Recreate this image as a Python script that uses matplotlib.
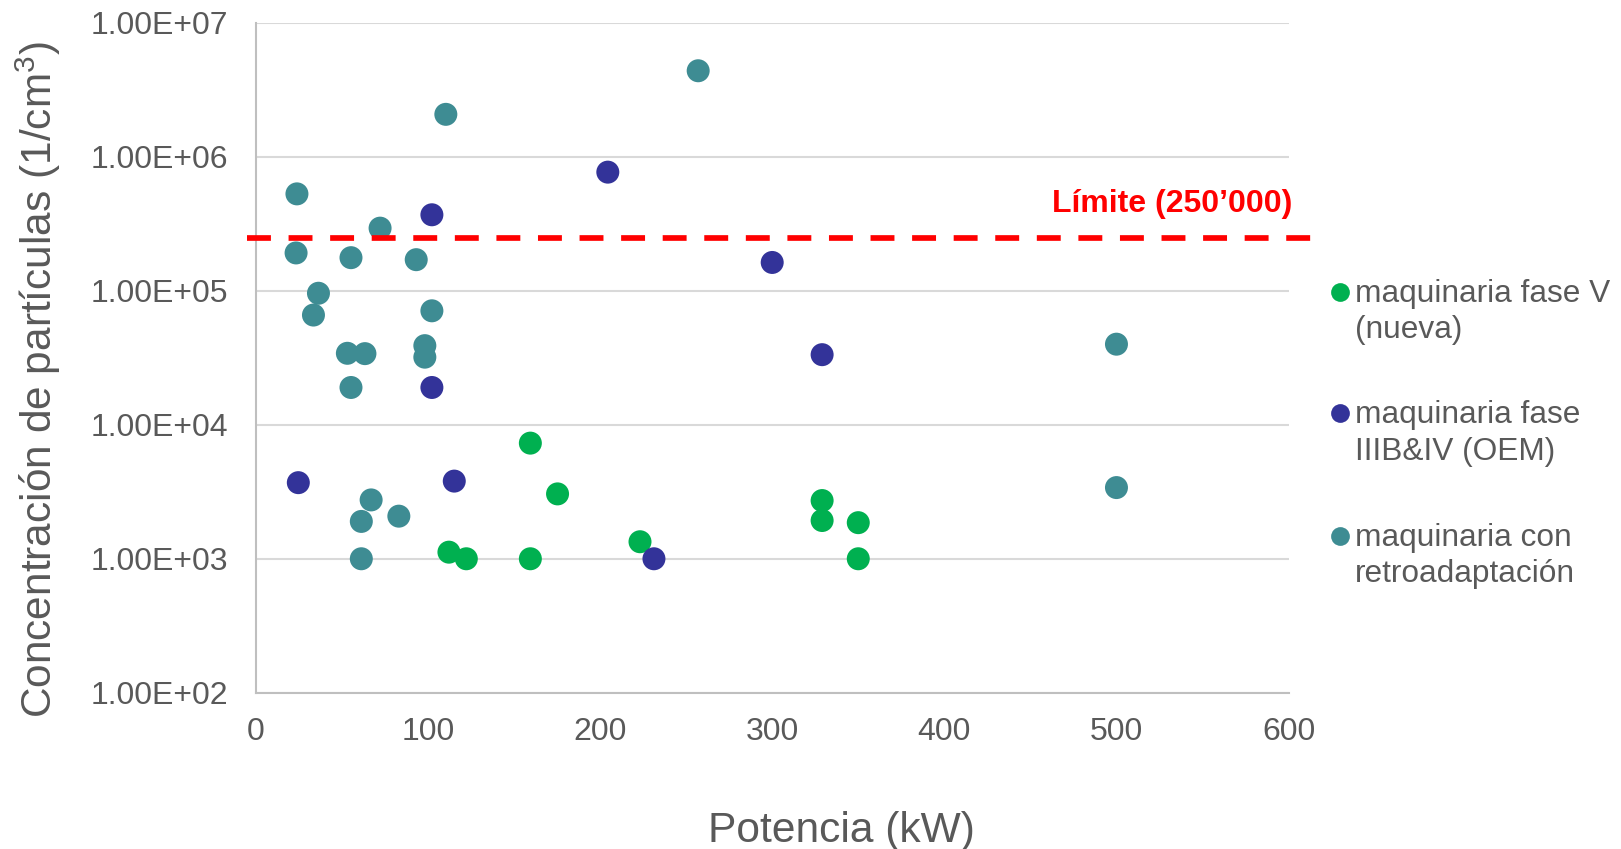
import matplotlib
matplotlib.use("Agg")
import matplotlib.pyplot as plt
from matplotlib.ticker import FixedLocator, FixedFormatter

plt.rcParams['font.family'] = ['Liberation Sans', 'DejaVu Sans']
plt.rcParams['mathtext.default'] = 'regular'

# datos
fase_v_kw = [159.5, 112.2, 122.3, 159.5, 175.3, 223.2, 329.0, 329.0, 350.0, 350.0]
fase_v_conc = [7.3e3, 1.12e3, 1.0e3, 1.0e3, 3.05e3, 1.34e3, 2.72e3, 1.93e3, 1.86e3, 1.0e3]

oem_kw = [102.3, 102.3, 204.5, 300.0, 329.0, 24.7, 115.3, 231.3]
oem_conc = [3.7e5, 1.9e4, 7.7e5, 1.63e5, 3.34e4, 3.7e3, 3.8e3, 1.0e3]

retro_kw = [23.9, 23.4, 36.4, 33.5, 55.3, 72.2, 53.2, 63.4, 55.3, 93.2, 102.3,
            98.2, 98.2, 110.4, 257.0, 500.0, 67.0, 61.3, 83.1, 61.3, 500.0]
retro_conc = [5.3e5, 1.92e5, 9.6e4, 6.6e4, 1.77e5, 2.94e5, 3.42e4, 3.4e4, 1.9e4,
              1.71e5, 7.1e4, 3.9e4, 3.2e4, 2.08e6, 4.4e6, 4.0e4, 2.75e3, 1.9e3,
              2.08e3, 1.0e3, 3.4e3]

limite = 250000
y_ticks = [1e2, 1e3, 1e4, 1e5, 1e6, 1e7]
y_labels = ["1.00E+02", "1.00E+03", "1.00E+04", "1.00E+05", "1.00E+06", "1.00E+07"]
x_ticks = [0, 100, 200, 300, 400, 500, 600]

series = [
    ("maquinaria fase V", "(nueva)", fase_v_kw, fase_v_conc, "#00B050"),
    ("maquinaria fase", "IIIB&IV (OEM)", oem_kw, oem_conc, "#333399"),
    ("maquinaria con", "retroadaptación", retro_kw, retro_conc, "#3E8C93"),
]

W, H = 1621, 849
gris = "#595959"
fig = plt.figure(figsize=(W / 100, H / 100), dpi=100)
ax = fig.add_axes([255.8 / W, 1 - 692.7 / H, 1032.8 / W, 669.7 / H])

for _, _, xs, ys, col in series:
    ax.scatter(xs, ys, s=274, color=col, edgecolors="none", zorder=3)

# línea límite
ax.plot([-5, 615], [limite, limite], color="#FF0000", lw=4.1,
        linestyle=(0, (4.2, 3.1)), zorder=4, clip_on=False)
ax.text(602, 3.9e5, "Límite (250’000)", color="#FF0000", fontsize=23,
        fontweight="bold", ha="right", va="baseline")

ax.set_yscale("log")
ax.set_ylim(1e2, 1e7)
ax.set_xlim(0, 600)
ax.yaxis.set_major_locator(FixedLocator(y_ticks))
ax.yaxis.set_major_formatter(FixedFormatter(y_labels))
ax.yaxis.set_minor_locator(FixedLocator([]))
ax.set_xticks(x_ticks)
ax.tick_params(axis="both", length=0, labelsize=23, colors=gris)
ax.tick_params(axis="x", pad=17.5)
ax.tick_params(axis="y", pad=20)
ax.grid(axis="y", color="#D9D9D9", lw=1.5, zorder=0)
ax.set_axisbelow(True)
for s in ["top", "right"]:
    ax.spines[s].set_visible(False)
for s in ["left", "bottom"]:
    ax.spines[s].set_color("#BFBFBF")
    ax.spines[s].set_linewidth(1.5)

fig.text(841 / W, 7.3 / H, "Potencia (kW)", fontsize=30.6, color=gris,
         ha="center", va="baseline")
fig.text(52 / W, 1 - 379.5 / H, "Concentración de partículas (1/cm$^{3}$)",
         fontsize=30.5, color=gris, rotation=90, rotation_mode="anchor",
         ha="center", va="baseline")

# leyenda manual (marcador alineado con la primera línea)
legend_y = [291.6, 413.4, 535.6]
for (l1, l2, _, _, col), yy in zip(series, legend_y):
    fig.lines.append(plt.Line2D([1340 / W], [1 - yy / H], marker="o",
                                markersize=13.5, color=col, markeredgewidth=0,
                                linestyle="none", transform=fig.transFigure))
    fig.text(1355 / W, 1 - (yy + 10) / H, l1, fontsize=22.8, color=gris,
             ha="left", va="baseline")
    fig.text(1355 / W, 1 - (yy + 46.7) / H, l2, fontsize=22.8, color=gris,
             ha="left", va="baseline")

fig.savefig("out.png", dpi=100)
